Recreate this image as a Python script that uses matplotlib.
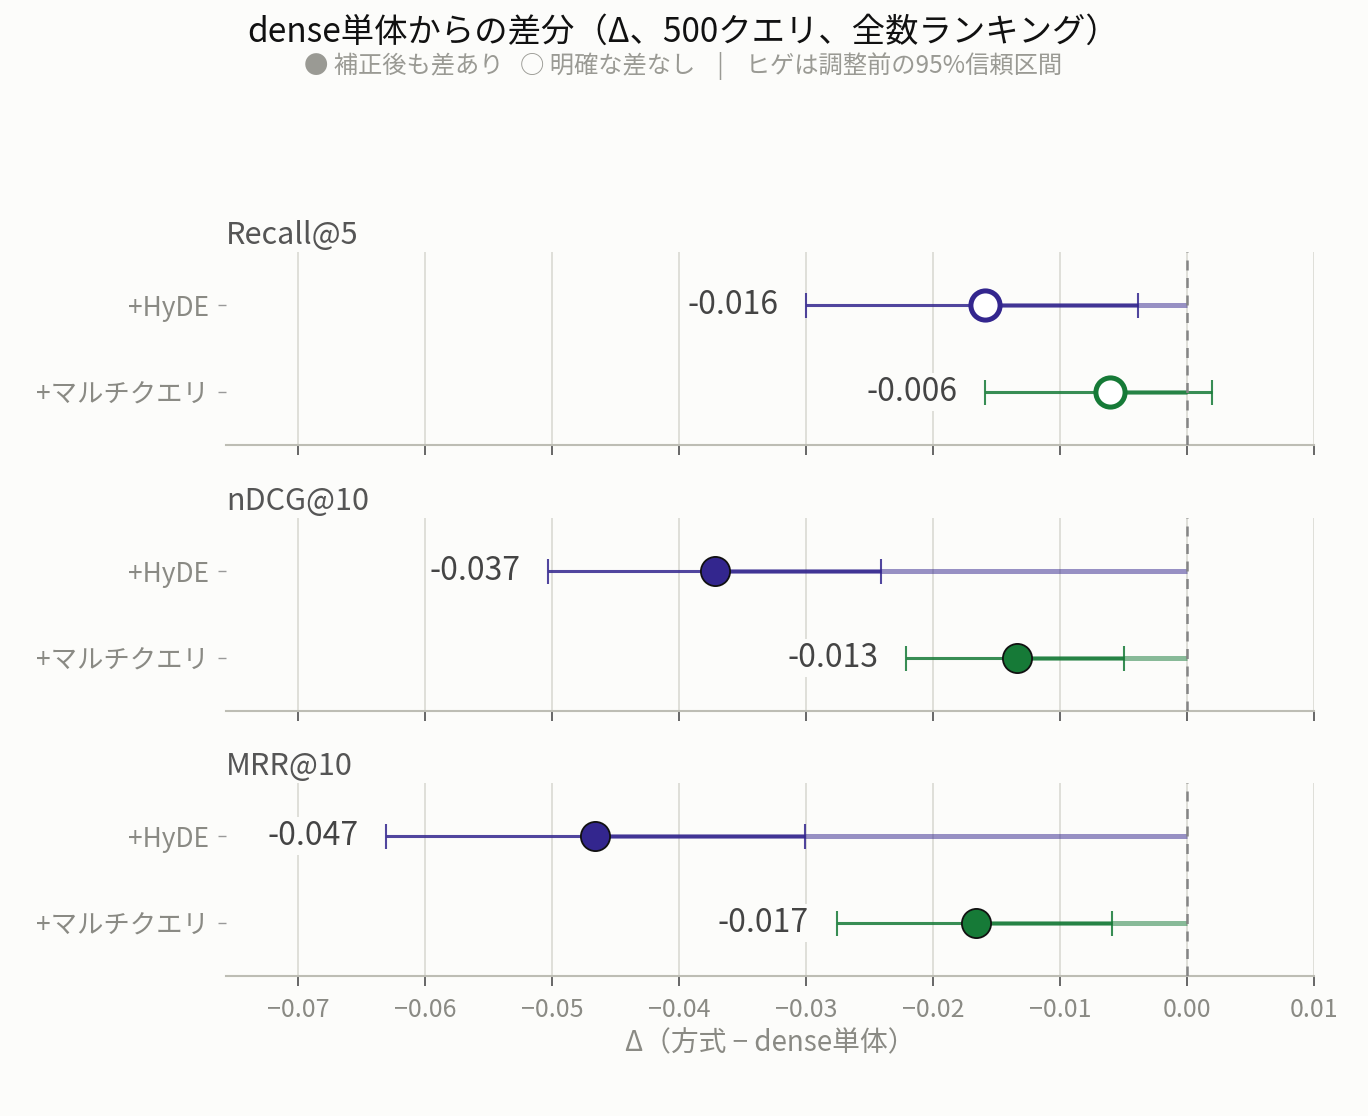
import matplotlib.pyplot as plt

plt.rcParams['font.family'] = ['Noto Sans CJK JP', 'DejaVu Sans']

# data
metrics = ['Recall@5', 'nDCG@10', 'MRR@10']
methods = ['+HyDE', '+マルチクエリ']
delta = [[-0.0159, -0.0061], [-0.0372, -0.0134], [-0.0466, -0.0166]]
ci_lo = [[-0.0300, -0.0159], [-0.0503, -0.0221], [-0.0631, -0.0276]]
ci_hi = [[-0.0039, 0.0020], [-0.0241, -0.0050], [-0.0301, -0.0059]]
significant = [[False, False], [True, True], [True, True]]
xticks = [-0.07, -0.06, -0.05, -0.04, -0.03, -0.02, -0.01, 0.00, 0.01]

colors = ['#33268e', '#167a37']
bg = '#fcfcfa'
gray = '#8a8a84'

fig = plt.figure(figsize=(13.68, 11.16), dpi=100, facecolor=bg)

fig.text(0.499, 0.971, 'dense単体からの差分（Δ、500クエリ、全数ランキング）',
         ha='center', va='center', fontsize=24, color='#111111')
fig.text(0.499, 0.941, '● 補正後も差あり   ○ 明確な差なし    |    ヒゲは調整前の95%信頼区間',
         ha='center', va='center', fontsize=17.5, color='#9a9a94')

left, width = 0.1652, 0.7953
bottoms = [0.6013, 0.3629, 0.1254]
height = 0.1729

for i, metric in enumerate(metrics):
    ax = fig.add_axes([left, bottoms[i], width, height])
    ax.set_facecolor(bg)
    ax.set_xlim(-0.0757, 0.01)
    ax.set_ylim(1.61, -0.61)
    ax.set_xticks(xticks)
    ax.grid(axis='x', color='#dcdcd6', lw=1.3, zorder=0)
    ax.axvline(0, color='#858585', ls=(0, (4, 3)), lw=1.8, zorder=5)

    for j, method in enumerate(methods):
        c = colors[j]
        d = delta[i][j]
        ax.errorbar(d, j, xerr=[[d - ci_lo[i][j]], [ci_hi[i][j] - d]],
                    fmt='none', ecolor=c, elinewidth=2.2, capsize=9,
                    capthick=1.5, alpha=0.85, zorder=2)
        # distance from estimate to zero
        ax.plot([d, 0], [j, j], color=c, lw=3.6, alpha=0.5,
                solid_capstyle='butt', zorder=3)
        if significant[i][j]:
            ax.plot(d, j, 'o', ms=21, mfc=c, mec='#111111', mew=1.3, zorder=6)
        else:
            ax.plot(d, j, 'o', ms=21, mfc='white', mec=c, mew=3.6, zorder=6)
        ax.annotate(f'{d:.3f}', xy=(ci_lo[i][j], j), xytext=(-20, 0),
                    textcoords='offset points', ha='right', va='center',
                    fontsize=23, color='#444444',
                    bbox=dict(boxstyle='square,pad=0.1', fc=bg, ec='none'))

    ax.set_yticks(range(len(methods)))
    ax.set_yticklabels(methods, fontsize=19, color=gray)
    ax.tick_params(axis='y', length=6, width=1, color='#999999', pad=6)
    ax.tick_params(axis='x', length=7, width=1.4, color='#666666',
                   labelsize=18, labelcolor=gray, pad=8)
    if i < len(metrics) - 1:
        ax.tick_params(axis='x', labelbottom=False)
    for s in ['top', 'right', 'left']:
        ax.spines[s].set_visible(False)
    ax.spines['bottom'].set_color('#bdbdb4')
    ax.spines['bottom'].set_linewidth(1.5)
    ax.set_title(metric, loc='left', fontsize=22, color='#555555', pad=6)

ax.set_xlabel('Δ（方式 − dense単体）', fontsize=20, color=gray, labelpad=4)

fig.savefig('out.png', dpi=100, facecolor=bg)
